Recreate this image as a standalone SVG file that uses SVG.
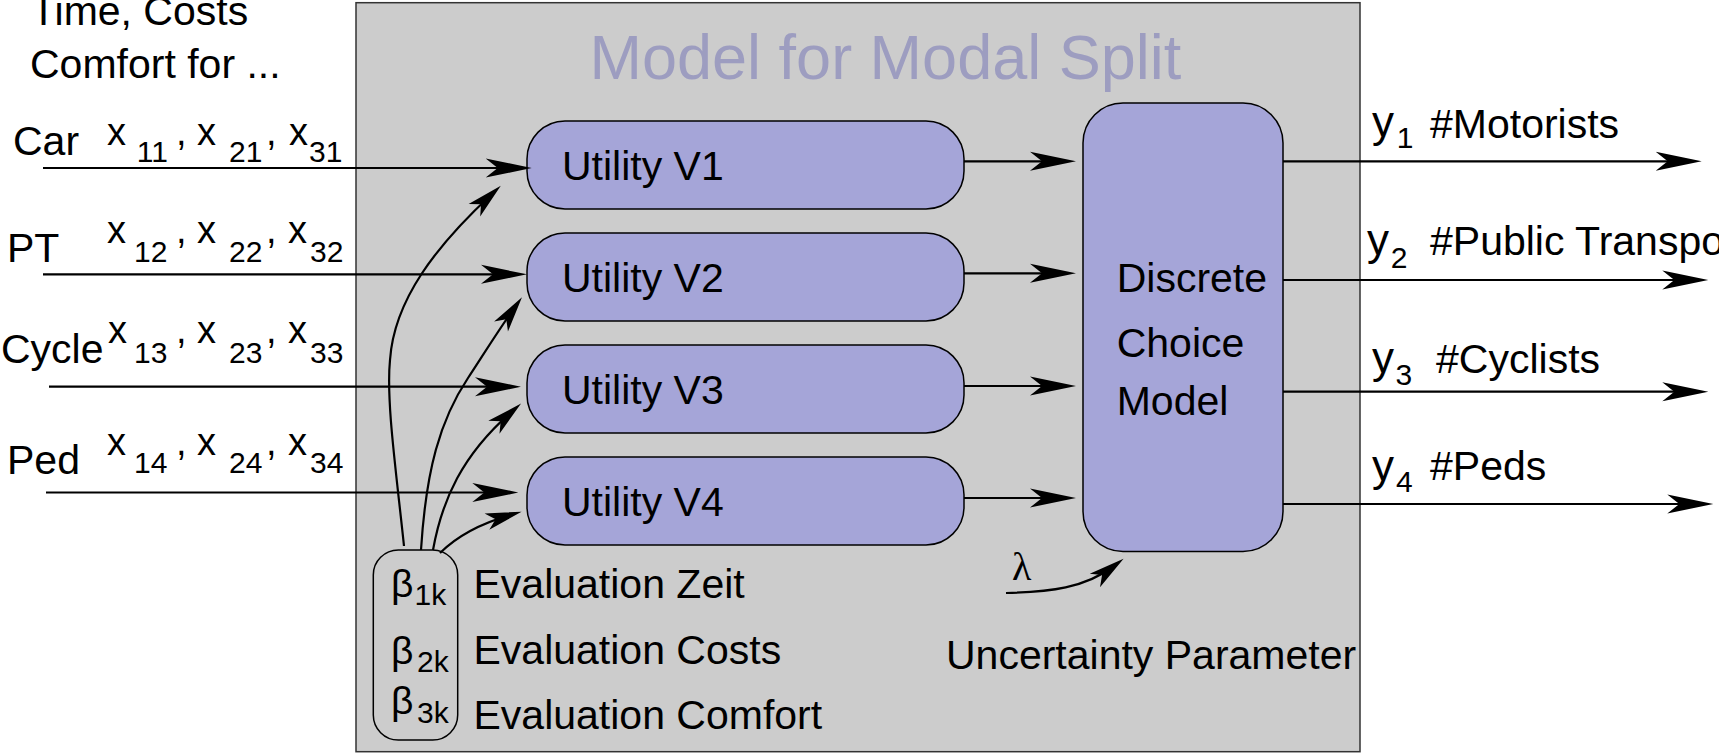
<svg xmlns="http://www.w3.org/2000/svg" width="1719" height="754" viewBox="0 0 1719 754">
<style>
text{font-family:"Liberation Sans",Arial,Helvetica,sans-serif;fill:#000}
.t{font-size:41px}
.xv{font-size:38px}
.yv{font-size:44px}
.sb{font-size:30px}
.bt{font-size:39px}
.ttl{font-size:63px;fill:#9d9dc0}
.lam{font-family:"Liberation Serif","Times New Roman",serif;font-size:40px}
.box{fill:#a5a5d8;stroke:#000;stroke-width:1.5}
.con{fill:none;stroke:#000;stroke-width:2.2}
</style>
<defs>
<marker id="ah" markerUnits="userSpaceOnUse" viewBox="-48 -11 50 22" markerWidth="50" markerHeight="22" refX="-24" refY="0" orient="auto" overflow="visible">
<path d="M0,0 L-46,-9.5 L-34,0 L-46,9.5 Z" fill="#000"/>
</marker>
<marker id="ahs" markerUnits="userSpaceOnUse" viewBox="-40 -10 42 20" markerWidth="42" markerHeight="20" refX="-12" refY="0" orient="auto" overflow="visible">
<path d="M0,0 L-36,-8.5 L-27,0 L-36,8.5 Z" fill="#000"/>
</marker>
</defs>
<rect width="1719" height="754" fill="#fff"/>
<g id="model-frame">
<rect x="356" y="2.7" width="1004" height="749" fill="#cccccc" stroke="#333" stroke-width="1.5"/>
<text class="ttl" x="589.5" y="79">Model for Modal Split</text>
</g>
<g id="utility-v1"><rect class="box" x="527" y="121" width="437" height="88" rx="38"/><text class="t" x="562" y="180">Utility V1</text></g>
<g id="utility-v2"><rect class="box" x="527" y="233" width="437" height="88" rx="38"/><text class="t" x="562" y="292">Utility V2</text></g>
<g id="utility-v3"><rect class="box" x="527" y="345" width="437" height="88" rx="38"/><text class="t" x="562" y="404">Utility V3</text></g>
<g id="utility-v4"><rect class="box" x="527" y="457" width="437" height="88" rx="38"/><text class="t" x="562" y="516">Utility V4</text></g>
<g id="discrete-choice"><rect class="box" x="1083" y="103" width="200" height="448.5" rx="40"/>
<text class="t" x="1116.7" y="292">Discrete</text><text class="t" x="1116.7" y="357">Choice</text><text class="t" x="1116.7" y="415">Model</text></g>
<g id="beta-params"><rect x="373.3" y="550" width="84.4" height="190" rx="25" fill="none" stroke="#000" stroke-width="1.5"/>
<text class="bt" x="391" y="597">β</text><text class="sb" x="414.5" y="605">1k</text>
<text class="bt" x="391" y="664">β</text><text class="sb" x="417" y="672">2k</text>
<text class="bt" x="391" y="714">β</text><text class="sb" x="417" y="723">3k</text>
<text class="t" x="473.5" y="598">Evaluation Zeit</text>
<text class="t" x="473.5" y="664">Evaluation Costs</text>
<text class="t" x="473.5" y="729">Evaluation Comfort</text></g>
<g id="lambda"><text class="lam" x="1012" y="580">λ</text><text class="t" x="946" y="669">Uncertainty Parameter</text></g>
<g id="inputs">
<text class="t" x="31" y="25">Time, Costs</text>
<text class="t" x="30" y="78">Comfort for ...</text>
<text class="t" x="13" y="155">Car</text>
<text class="t" x="7" y="262">PT</text>
<text class="t" x="1" y="363">Cycle</text>
<text class="t" x="7" y="474">Ped</text>
<text class="xv" x="107" y="145">x</text><text class="sb" x="136.7" y="162">11</text><text class="xv" x="176" y="145">,</text><text class="xv" x="197" y="145">x</text><text class="sb" x="229" y="162">21</text><text class="xv" x="266" y="145">,</text><text class="xv" x="289" y="145">x</text><text class="sb" x="309" y="162">31</text>
<text class="xv" x="107" y="243">x</text><text class="sb" x="134" y="262">12</text><text class="xv" x="176" y="243">,</text><text class="xv" x="197" y="243">x</text><text class="sb" x="229" y="262">22</text><text class="xv" x="266" y="243">,</text><text class="xv" x="288" y="243">x</text><text class="sb" x="310" y="262">32</text>
<text class="xv" x="108" y="343">x</text><text class="sb" x="134" y="363">13</text><text class="xv" x="176" y="343">,</text><text class="xv" x="197" y="343">x</text><text class="sb" x="229" y="363">23</text><text class="xv" x="266" y="343">,</text><text class="xv" x="288" y="343">x</text><text class="sb" x="310" y="363">33</text>
<text class="xv" x="107" y="455">x</text><text class="sb" x="134" y="473">14</text><text class="xv" x="176" y="455">,</text><text class="xv" x="197" y="455">x</text><text class="sb" x="229" y="473">24</text><text class="xv" x="266" y="455">,</text><text class="xv" x="288" y="455">x</text><text class="sb" x="310" y="473">34</text>
</g>
<g id="outputs">
<text class="yv" x="1372" y="137">y</text><text class="sb" x="1396.7" y="148.3">1</text><text class="t" x="1430" y="138.3">#Motorists</text>
<text class="yv" x="1367" y="254.5">y</text><text class="sb" x="1390.7" y="268.3">2</text><text class="t" x="1430" y="255">#Public Transport</text>
<text class="yv" x="1372" y="373">y</text><text class="sb" x="1395.4" y="385">3</text><text class="t" x="1436" y="373.3">#Cyclists</text>
<text class="yv" x="1372" y="481">y</text><text class="sb" x="1396" y="491.7">4</text><text class="t" x="1430" y="480">#Peds</text>
</g>
<g id="connectors">
<path class="con" marker-end="url(#ah)" d="M43,168 H507.7"/>
<path class="con" marker-end="url(#ah)" d="M43,274.3 H503"/>
<path class="con" marker-end="url(#ah)" d="M49,386.7 H497"/>
<path class="con" marker-end="url(#ah)" d="M46,492.5 H494.3"/>
<path class="con" marker-end="url(#ah)" d="M964,161.3 H1052"/>
<path class="con" marker-end="url(#ah)" d="M964,273.3 H1052"/>
<path class="con" marker-end="url(#ah)" d="M964,386 H1052"/>
<path class="con" marker-end="url(#ah)" d="M964,498 H1052"/>
<path class="con" marker-end="url(#ah)" d="M1283,161.3 H1677.7"/>
<path class="con" marker-end="url(#ah)" d="M1283,280 H1684.3"/>
<path class="con" marker-end="url(#ah)" d="M1283,391.7 H1684.3"/>
<path class="con" marker-end="url(#ah)" d="M1283,504 H1689.3"/>
<path class="con" marker-end="url(#ahs)" d="M404,546 C396,470 386,400 390,360 C394,300 436,246 492,194"/>
<path class="con" marker-end="url(#ahs)" d="M421,550 C426,470 440,420 468,378 C485,352 500,328 515,307"/>
<path class="con" marker-end="url(#ahs)" d="M433,550 C442,500 462,455 512,411.5"/>
<path class="con" marker-end="url(#ahs)" d="M440,553 Q465,528 510,515"/>
<path class="con" marker-end="url(#ahs)" d="M1006,593 C1050,592 1085,588 1114,566"/>
</g>
</svg>
